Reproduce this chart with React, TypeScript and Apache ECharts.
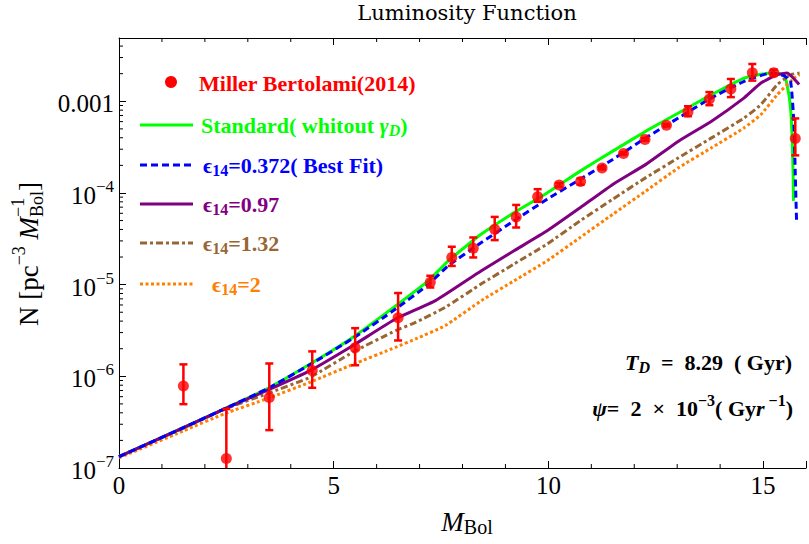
import React, { useEffect, useRef } from "react";
import * as echarts from "echarts";

const SERIF = '"Liberation Serif", "Times New Roman", serif';
const TITLE_FONT = '"DejaVu Serif", serif';

const X_MIN = 0;
const X_MAX = 16;
const Y_MIN = 1e-7;
const Y_MAX = 4.9e-3;

// Observations: Miller Bertolami (2014)
const obsX = [1.5, 2.5, 3.5, 4.5, 5.5, 6.5, 7.25, 7.75, 8.25, 8.75, 9.25, 9.75, 10.25, 10.75, 11.25, 11.75, 12.25, 12.75, 13.25, 13.75, 14.25, 14.75, 15.25, 15.75];
const obsY = [7.86e-7, 1.27e-7, 5.86e-7, 1.16e-6, 2.05e-6, 4.35e-6, 1.06e-5, 1.98e-5, 2.5e-5, 4.03e-5, 5.48e-5, 9.1e-5, 1.22e-4, 1.33e-4, 1.87e-4, 2.7e-4, 3.84e-4, 5.48e-4, 7.66e-4, 1.06e-3, 1.36e-3, 2.05e-3, 2.05e-3, 3.93e-4];
const obsLow = [4.97e-7, 8e-8, 2.59e-7, 7.5e-7, 1.32e-6, 2.46e-6, 9.3e-6, 1.6e-5, 1.98e-5, 3.06e-5, 4.2e-5, 8.0e-5, 1.17e-4, 1.23e-4, 1.81e-4, 2.62e-4, 3.72e-4, 5.32e-4, 6.87e-4, 9.06e-4, 1.11e-3, 1.68e-3, 1.92e-3, 2.57e-4];
const obsHigh = [1.35e-6, 4.4e-7, 1.38e-6, 1.87e-6, 3.35e-6, 8.1e-6, 1.25e-5, 2.59e-5, 3.27e-5, 5.48e-5, 7.4e-5, 1.1e-4, 1.28e-4, 1.44e-4, 1.94e-4, 2.79e-4, 3.97e-4, 5.65e-4, 8.83e-4, 1.26e-3, 1.75e-3, 2.55e-3, 2.21e-3, 6.5e-4];

// Standard (without gamma_D)
const stdX = [0, 1.5, 2.47, 3.46, 4.46, 5.45, 6.45, 7.2, 7.67, 8.44, 9.2, 9.97, 10.74, 11.5, 12.27, 13.03, 13.8, 14.56, 15.18, 15.48, 15.56, 15.64, 15.68, 15.7, 15.71];
const stdY = [1.33e-7, 2.75e-7, 4.45e-7, 7.35e-7, 1.37e-6, 2.67e-6, 5.9e-6, 1.1e-5, 1.82e-5, 3.56e-5, 6.1e-5, 1.0e-4, 1.73e-4, 2.86e-4, 4.72e-4, 7.46e-4, 1.18e-3, 1.79e-3, 2.03e-3, 1.95e-3, 1.51e-3, 8.5e-4, 3.67e-4, 1.6e-4, 8.2e-5];

// eps14 = 0.372 (best fit)
const fitX = [0, 1.5, 2.47, 3.46, 4.46, 5.45, 6.45, 7.2, 7.67, 8.44, 9.2, 9.97, 10.74, 11.5, 12.27, 13.03, 13.8, 14.56, 15.18, 15.48, 15.64, 15.72, 15.75, 15.78];
const fitY = [1.33e-7, 2.75e-7, 4.45e-7, 7.35e-7, 1.35e-6, 2.6e-6, 5.45e-6, 1.0e-5, 1.61e-5, 2.88e-5, 4.97e-5, 8.55e-5, 1.41e-4, 2.32e-4, 3.99e-4, 6.58e-4, 1.09e-3, 1.65e-3, 2.03e-3, 1.9e-3, 1.65e-3, 5.57e-4, 1.6e-4, 4.97e-5];

// eps14 = 0.97
const e097X = [0, 1.5, 2.47, 3.46, 4.46, 5.45, 6.45, 7.37, 8.44, 9.2, 9.97, 10.74, 11.5, 12.27, 13.03, 13.8, 14.56, 14.95, 15.33, 15.56, 15.84];
const e097Y = [1.33e-7, 2.75e-7, 4.45e-7, 7.05e-7, 1.16e-6, 2.17e-6, 4.24e-6, 6.7e-6, 1.42e-5, 2.34e-5, 3.86e-5, 6.9e-5, 1.24e-4, 2.05e-4, 3.67e-4, 6.07e-4, 1.09e-3, 1.58e-3, 1.95e-3, 2.03e-3, 1.52e-3];

// eps14 = 1.32
const e132X = [0, 1.5, 2.47, 3.46, 4.46, 5.45, 6.45, 6.92, 7.6, 8.44, 9.2, 9.97, 10.74, 11.5, 12.27, 13.03, 13.8, 14.56, 14.95, 15.33, 15.64, 15.85];
const e132Y = [1.33e-7, 2.73e-7, 4.4e-7, 6.5e-7, 9.8e-7, 1.84e-6, 3.16e-6, 3.9e-6, 5.66e-6, 1.02e-5, 1.68e-5, 2.77e-5, 4.97e-5, 8.55e-5, 1.47e-4, 2.42e-4, 3.99e-4, 6.58e-4, 9.2e-4, 1.52e-3, 1.95e-3, 2.03e-3];

// eps14 = 2
const e2X = [0, 1.5, 2.47, 3.46, 4.46, 5.45, 6.45, 6.92, 7.6, 8.44, 9.2, 9.97, 10.74, 11.5, 12.27, 13.03, 13.8, 14.56, 14.95, 15.33, 15.72, 15.85];
const e2Y = [1.29e-7, 2.54e-7, 3.93e-7, 5.73e-7, 8.67e-7, 1.35e-6, 2.08e-6, 2.57e-6, 3.58e-6, 6.7e-6, 1.1e-5, 1.82e-5, 3.27e-5, 5.86e-5, 1.05e-4, 1.88e-4, 3.11e-4, 5.13e-4, 7.16e-4, 1.18e-3, 1.79e-3, 1.95e-3];

const xMinorTicks = [1, 2, 3, 4, 6, 7, 8, 9, 11, 12, 13, 14];
const yDecades = [-7, -6, -5, -4, -3];

const RED = "#ff0000";
const GREEN = "#00ff00";
const BLUE = "#0000ff";
const PURPLE = "#800080";
const BROWN = "#996633";
const ORANGE = "#ff8000";

type Piece = { t: string; s: number; b?: boolean; i?: boolean; dy?: number; f?: string; stack?: boolean };

let mctx: CanvasRenderingContext2D | null = null;
function measure(p: Piece): number {
  if (!mctx) mctx = document.createElement("canvas").getContext("2d");
  mctx!.font = `${p.i ? "italic " : ""}${p.b ? "bold " : ""}${p.s}px ${p.f || SERIF}`;
  return mctx!.measureText(p.t).width;
}

function run(pieces: Piece[], color: string) {
  let x = 0;
  let pending = 0;
  const els: any[] = [];
  for (const p of pieces) {
    const w = measure(p);
    els.push({
      type: "text",
      x,
      y: p.dy || 0,
      style: {
        text: p.t,
        fill: color,
        fontSize: p.s,
        fontFamily: p.f || SERIF,
        fontWeight: p.b ? "bold" : "normal",
        fontStyle: p.i ? "italic" : "normal",
        align: "left",
        verticalAlign: "middle",
      },
    });
    if (p.stack) {
      pending = w;
    } else {
      x += Math.max(w, pending);
      pending = 0;
    }
  }
  return { els, width: x };
}

function placed(pieces: Piece[], color: string, x: number, y: number, align: "left" | "right" | "center") {
  const r = run(pieces, color);
  const gx = align === "left" ? x : align === "right" ? x - r.width : x - r.width / 2;
  return { type: "group", x: gx, y, children: r.els };
}

function buildGraphics() {
  const g: any[] = [];
  // title
  g.push({
    type: "text",
    x: 467,
    y: 13,
    style: { text: "Luminosity Function", fill: "#000", fontSize: 21, fontFamily: TITLE_FONT, align: "center", verticalAlign: "middle" },
  });
  // x-axis name
  g.push(placed([{ t: "M", s: 27, i: true }, { t: "Bol", s: 20, dy: 5 }], "#000", 467, 522, "center"));
  // y-axis name (rotated)
  const yl = run(
    [
      { t: "N [pc", s: 27 },
      { t: "−3", s: 18, dy: -10 },
      { t: " ", s: 27 },
      { t: "M", s: 27, i: true },
      { t: "−1", s: 18, dy: -11, stack: true },
      { t: "Bol", s: 18, dy: 8 },
      { t: "]", s: 27 },
    ],
    "#000"
  );
  g.push({ type: "group", x: 29, y: 254 + yl.width / 2, rotation: Math.PI / 2, children: yl.els });

  // legend
  const B = 22;
  const SUB = 16;
  g.push({ type: "circle", shape: { cx: 171, cy: 82, r: 6 }, style: { fill: RED } });
  g.push(placed([{ t: "Miller Bertolami(2014)", s: B, b: true }], RED, 199, 83, "left"));

  const lineRow = (y: number, color: string, dash: number[] | null) => ({
    type: "line",
    shape: { x1: 140, y1: y, x2: 193, y2: y },
    style: { stroke: color, lineWidth: 3, lineDash: dash || undefined },
  });
  g.push(lineRow(125, GREEN, null));
  g.push(
    placed(
      [
        { t: "Standard( whitout ", s: B, b: true },
        { t: "γ", s: B, b: true, i: true },
        { t: "D", s: SUB, b: true, i: true, dy: 5 },
        { t: ")", s: B, b: true },
      ],
      GREEN,
      201,
      125,
      "left"
    )
  );
  const eps = (rest: string): Piece[] => [
    { t: "ϵ", s: B, b: true },
    { t: "14", s: SUB, b: true, dy: 5 },
    { t: rest, s: B, b: true },
  ];
  g.push(lineRow(165, BLUE, [7, 4]));
  g.push(placed(eps("=0.372( Best Fit)"), BLUE, 203, 165, "left"));
  g.push(lineRow(204, PURPLE, null));
  g.push(placed(eps("=0.97"), PURPLE, 203, 204, "left"));
  g.push(lineRow(243, BROWN, [7, 3, 3, 3]));
  g.push(placed(eps("=1.32"), BROWN, 203, 243, "left"));
  g.push(lineRow(284, ORANGE, [3, 2.5]));
  g.push(placed(eps("=2"), ORANGE, 212, 284, "left"));

  // annotations
  const A = 22;
  const AS = 16;
  g.push(
    placed(
      [
        { t: "T", s: A, b: true, i: true },
        { t: "D", s: AS, b: true, i: true, dy: 5 },
        { t: "  =  8.29  ( Gyr)", s: A, b: true },
      ],
      "#000",
      792,
      362,
      "right"
    )
  );
  g.push(
    placed(
      [
        { t: "ψ", s: A, b: true, i: true },
        { t: "=  2  ×  10", s: A, b: true },
        { t: "−3", s: AS, b: true, dy: -8 },
        { t: "( Gy", s: A, b: true },
        { t: "r", s: A, b: true, i: true },
        { t: " −1", s: AS, b: true, dy: -8 },
        { t: ")", s: A, b: true },
      ],
      "#000",
      793,
      408,
      "right"
    )
  );
  return g;
}

function pairs(xs: number[], ys: number[]) {
  return xs.map((x, i) => [x, ys[i]]);
}

export default function App() {
  const ref = useRef<HTMLDivElement>(null);
  useEffect(() => {
    if (!ref.current) return;
    const chart = echarts.init(ref.current, null, { renderer: "svg" });

    const yMinor: number[] = [];
    for (const d of yDecades) {
      for (let k = 2; k <= 9; k++) {
        const v = k * Math.pow(10, d);
        if (v < Y_MAX) yMinor.push(v);
      }
    }

    const lineSeries = (name: string, xs: number[], ys: number[], color: string, type: any, width = 3) => ({
      name,
      type: "line",
      data: pairs(xs, ys),
      showSymbol: false,
      symbol: "none",
      smooth: 0.15,
      clip: true,
      lineStyle: { color, width, type, cap: "butt", join: "round" },
      z: 2,
    });

    const axisLine = { show: true, lineStyle: { color: "#000", width: 1 } };

    const option: any = {
      animation: false,
      backgroundColor: "#fff",
      grid: { left: 119, top: 38, width: 696.5, height: 430, containLabel: false },
      xAxis: [
        {
          type: "value",
          min: X_MIN,
          max: X_MAX,
          interval: 5,
          position: "bottom",
          axisLine,
          axisTick: { show: true, inside: true, length: 7, lineStyle: { color: "#000" } },
          axisLabel: {
            formatter: (v: number) => (v % 5 === 0 && v <= 15 ? String(v) : ""),
            fontSize: 25,
            fontFamily: SERIF,
            color: "#000",
            margin: 5,
          },
          splitLine: { show: false },
        },
        {
          type: "value",
          min: X_MIN,
          max: X_MAX,
          interval: 5,
          position: "top",
          axisLine,
          axisTick: { show: true, inside: true, length: 7, lineStyle: { color: "#000" } },
          axisLabel: { show: false },
          splitLine: { show: false },
        },
      ],
      yAxis: {
        type: "log",
        logBase: 10,
        min: Y_MIN,
        max: Y_MAX,
        axisLine,
        axisTick: { show: true, inside: true, length: 7, lineStyle: { color: "#000" } },
        axisLabel: {
          margin: 5,
          formatter: (v: number) => {
            const l = Math.log10(v);
            const e = Math.round(l);
            if (Math.abs(l - e) > 1e-6) return "";
            if (e === -3) return "{base|0.001}";
            return "{base|10}{sup|−" + -e + "}";
          },
          rich: {
            base: { fontSize: 25, fontFamily: SERIF, color: "#000", lineHeight: 30, verticalAlign: "bottom" },
            sup: { fontSize: 17, fontFamily: SERIF, color: "#000", lineHeight: 17, verticalAlign: "top" },
          },
        },
        splitLine: { show: false },
      },
      graphic: buildGraphics(),
      series: [
        {
          type: "custom",
          name: "minorTicks",
          silent: true,
          data: xMinorTicks.map((x) => [x, Y_MIN]),
          renderItem: (params: any, api: any) => {
            const x = api.value(0);
            const b = api.coord([x, Y_MIN]);
            const t = api.coord([x, Y_MAX]);
            return {
              type: "group",
              children: [
                { type: "line", shape: { x1: b[0], y1: b[1], x2: b[0], y2: b[1] - 4 }, style: { stroke: "#000", lineWidth: 1 } },
                { type: "line", shape: { x1: t[0], y1: t[1], x2: t[0], y2: t[1] + 4 }, style: { stroke: "#000", lineWidth: 1 } },
              ],
            };
          },
          z: 1,
        },
        {
          type: "custom",
          name: "yMinorTicks",
          silent: true,
          data: yMinor.map((v) => [X_MIN, v]),
          renderItem: (params: any, api: any) => {
            const p = api.coord([X_MIN, api.value(1)]);
            return { type: "line", shape: { x1: p[0], y1: p[1], x2: p[0] + 4, y2: p[1] }, style: { stroke: "#000", lineWidth: 1 } };
          },
          z: 1,
        },
        lineSeries("Standard", stdX, stdY, GREEN, "solid"),
        lineSeries("eps2", e2X, e2Y, ORANGE, [3, 2.5]),
        lineSeries("eps1.32", e132X, e132Y, BROWN, [7, 3, 3, 3]),
        lineSeries("eps0.97", e097X, e097Y, PURPLE, "solid"),
        lineSeries("eps0.372", fitX, fitY, BLUE, [7, 4]),
        {
          type: "custom",
          name: "errors",
          clip: true,
          data: obsX.map((x, i) => [x, obsLow[i], obsHigh[i]]),
          encode: { x: 0, y: [1, 2] },
          renderItem: (params: any, api: any) => {
            const x = api.value(0);
            const lo = api.coord([x, api.value(1)]);
            const hi = api.coord([x, api.value(2)]);
            const hw = 4;
            const st = { stroke: RED, lineWidth: 2.5 };
            return {
              type: "group",
              children: [
                { type: "line", shape: { x1: lo[0], y1: lo[1], x2: hi[0], y2: hi[1] }, style: st },
                { type: "line", shape: { x1: hi[0] - hw, y1: hi[1], x2: hi[0] + hw, y2: hi[1] }, style: st },
                { type: "line", shape: { x1: lo[0] - hw, y1: lo[1], x2: lo[0] + hw, y2: lo[1] }, style: st },
              ],
            };
          },
          z: 3,
        },
        {
          type: "scatter",
          name: "Miller Bertolami(2014)",
          data: pairs(obsX, obsY),
          symbol: "circle",
          symbolSize: 11,
          itemStyle: { color: RED },
          z: 4,
        },
      ],
    };
    chart.setOption(option);
    return () => chart.dispose();
  }, []);
  return <div ref={ref} style={{ position: "fixed", left: 0, top: 0, width: 809, height: 544, background: "#fff" }} />;
}
